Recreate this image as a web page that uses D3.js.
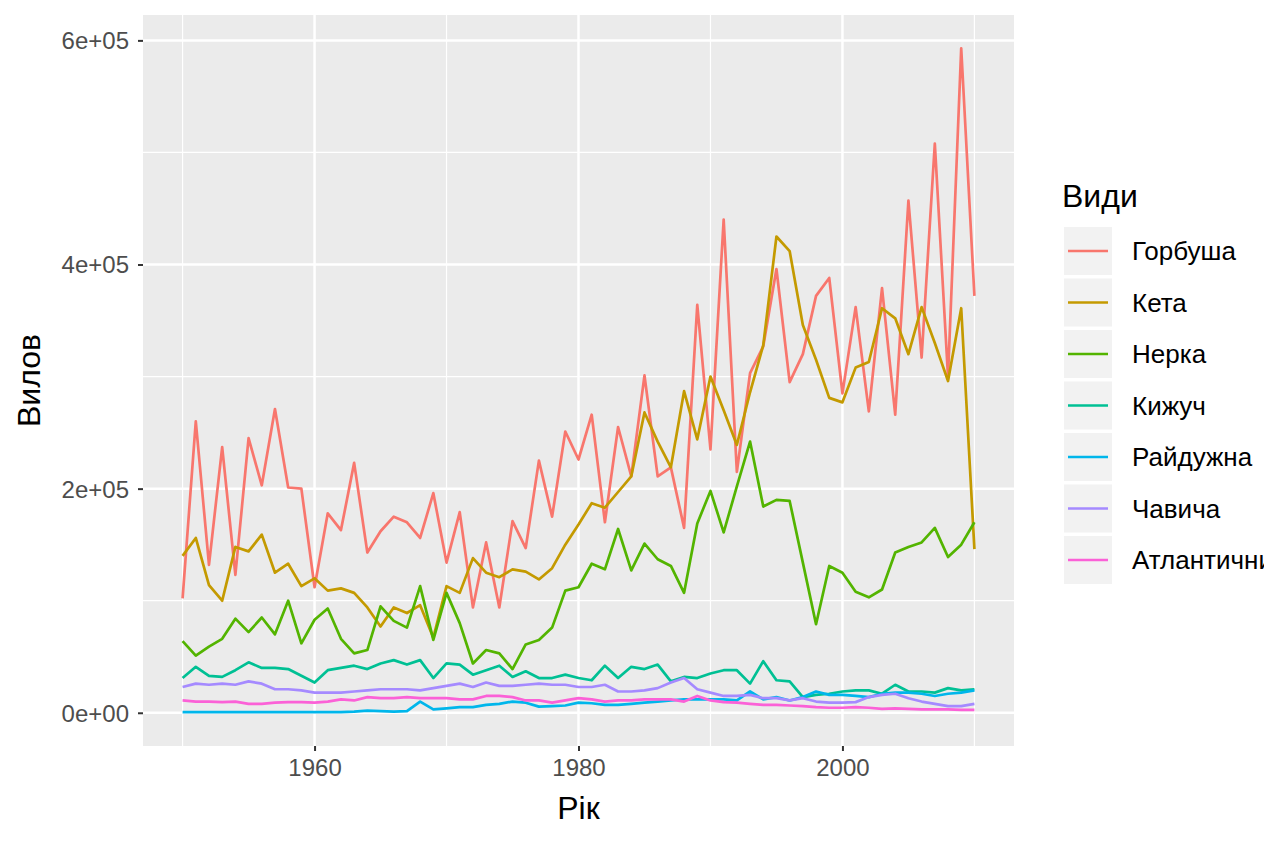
<!DOCTYPE html>
<html lang="uk">
<head>
<meta charset="UTF-8">
<title>Вилов лосося</title>
<script src="https://d3js.org/d3.v7.min.js"></script>
<style>
    body { margin: 0; background: #fff; font-family: "Liberation Sans", Arial, sans-serif; }
    .tick text { fill: #4d4d4d; font-size: 24px; }
    .tick line { stroke: #333; stroke-width: 2; }
    .domain { display: none; }
    .axis-title { font-size: 32px; fill: #000; }
    .legend-text { font-size: 26px; fill: #000; }
</style>
</head>
<body>
<div id="chart"></div>
<script>
// years 1950..2010, values in thousands
const years = d3.range(1950, 2011);
const speciesNames = ["Горбуша", "Кета", "Нерка", "Кижуч", "Райдужна", "Чавича", "Атлантичний"];
const colors = ["#F8766D", "#C49A00", "#53B400", "#00C094", "#00B6EB", "#A58AFF", "#FB61D7"];

const gorbusha = [102,260,132,237,123,245,203,271,201,200,
                  112,178,163,223,143,162,175,170,156,196,
                  134,179,94,152,94,171,147,225,175,251,
                  226,266,170,255,211,301,211,219,165,364,
                  235,440,215,303,327,396,295,320,372,388,
                  285,362,269,379,266,457,317,508,300,593,
                  372];
const keta = [140,156,114,100,148,144,159,125,133,113,
              120,109,111,107,94,77,94,89,96,67,
              113,107,138,125,121,128,126,119,129,150,
              168,187,183,197,211,268,242,219,287,244,
              300,270,239,286,328,425,412,346,315,281,
              277,308,313,361,352,320,362,330,296,361,
              146];
const nerka = [64,51,59,66,84,72,85,70,100,62,
               83,93,66,53,56,95,82,76,113,65,
               107,80,44,56,53,39,61,65,76,109,
               112,133,128,164,127,151,137,131,107,169,
               198,161,202,242,184,190,189,134,79,131,
               125,108,103,110,143,148,152,165,139,150,
               170];
const kyzhuch = [31,41,33,32,38,45,40,40,39,33,
                 27,38,40,42,39,44,47,43,47,31,
                 44,43,34,38,42,32,37,31,31,34,
                 31,29,42,31,41,39,43,28,32,31,
                 35,38,38,26,46,29,28,14,16,17,
                 19,20,20,17,25,19,19,18,22,20,
                 21];
const raiduzhna = [0.5,0.5,0.5,0.5,0.5,0.5,0.5,0.5,0.5,0.5,
                   0.5,0.5,0.5,1,2,1.5,1,1.5,10,3,
                   4,5,5,7,8,10,9,5.5,6,6.5,
                   9,8.5,7,7,8,9,10,11,12,12,
                   12,12,11,19,12,14,11,14,19,16,
                   16,15,14,17,18,18,17,15,17,18,
                   20];
const chavycha = [23,26,25,26,25,28,26,21,21,20,
                  18,18,18,19,20,21,21,21,20,22,
                  24,26,23,27,24,24,25,26,25,25,
                  23,23,25,19,19,20,22,27,31,21,
                  18,15,15,16,13,13,11,13,10,9,
                  9,9.5,14,16,17,13,10,8,6,6,
                  8];
const atlantic = [11,10,10,9.5,10,8,8,9,9.5,9.5,
                  9,10,12,11,14,13,13,14,13,13,
                  13,12,12,15,15,14,11,11,9,11,
                  13,12,10,11,11,12,12,12,10,15,
                  11,9.5,9,8,7,7,6.5,6,5,4.5,
                  4.5,5,4.5,3.5,4,3.5,3,3,3,2.5,
                  2.5];

const seriesValues = [gorbusha, keta, nerka, kyzhuch, raiduzhna, chavycha, atlantic];
const yTicks = [0, 200000, 400000, 600000];
const yTickLabels = ["0e+00", "2e+05", "4e+05", "6e+05"];
const xTicks = [1960, 1980, 2000];

const series = speciesNames.map((name, i) => ({
    name: name,
    color: colors[i],
    values: years.map((y, j) => ({ year: y, value: seriesValues[i][j] * 1000 }))
}));

const W = 1264, H = 843;
const panel = { left: 143, top: 15, right: 1014, bottom: 746 };

const svg = d3.select("#chart").append("svg")
    .attr("width", W)
    .attr("height", H);

// ggplot-like 5% expansion
const xMin = 1950, xMax = 2010, xPad = (xMax - xMin) * 0.05;
const yMaxData = d3.max(series, s => d3.max(s.values, d => d.value));
const yPad = yMaxData * 0.05;

const x = d3.scaleLinear()
    .domain([xMin - xPad, xMax + xPad])
    .range([panel.left, panel.right]);
const y = d3.scaleLinear()
    .domain([-yPad, yMaxData + yPad])
    .range([panel.bottom, panel.top]);

// panel background
svg.append("rect")
    .attr("x", panel.left).attr("y", panel.top)
    .attr("width", panel.right - panel.left)
    .attr("height", panel.bottom - panel.top)
    .attr("fill", "#EBEBEB");

// minor grid
const yMinor = [100000, 300000, 500000];
const xMinor = [1950, 1970, 1990, 2010];
svg.append("g").selectAll("line").data(yMinor).join("line")
    .attr("x1", panel.left).attr("x2", panel.right)
    .attr("y1", d => y(d)).attr("y2", d => y(d))
    .attr("stroke", "#fff").attr("stroke-width", 1.2);
svg.append("g").selectAll("line").data(xMinor).join("line")
    .attr("y1", panel.top).attr("y2", panel.bottom)
    .attr("x1", d => x(d)).attr("x2", d => x(d))
    .attr("stroke", "#fff").attr("stroke-width", 1.2);

// major grid
svg.append("g").selectAll("line").data(yTicks).join("line")
    .attr("x1", panel.left).attr("x2", panel.right)
    .attr("y1", d => y(d)).attr("y2", d => y(d))
    .attr("stroke", "#fff").attr("stroke-width", 2.5);
svg.append("g").selectAll("line").data(xTicks).join("line")
    .attr("y1", panel.top).attr("y2", panel.bottom)
    .attr("x1", d => x(d)).attr("x2", d => x(d))
    .attr("stroke", "#fff").attr("stroke-width", 2.5);

// lines
const line = d3.line()
    .x(d => x(d.year))
    .y(d => y(d.value));

svg.append("g").selectAll("path").data(series).join("path")
    .attr("d", d => line(d.values))
    .attr("fill", "none")
    .attr("stroke", d => d.color)
    .attr("stroke-width", 2.7)
    .attr("stroke-linejoin", "round");

// axes
const xAxisG = svg.append("g")
    .attr("transform", `translate(0,${panel.bottom})`)
    .call(d3.axisBottom(x).tickValues(xTicks).tickFormat(d3.format("d")).tickSize(5).tickPadding(5));
xAxisG.selectAll(".tick text").attr("dy", "0.85em");

const yAxisG = svg.append("g")
    .attr("transform", `translate(${panel.left},0)`)
    .call(d3.axisLeft(y).tickValues(yTicks).tickFormat((d, i) => yTickLabels[i]).tickSize(5).tickPadding(9));
yAxisG.selectAll(".tick text").attr("dy", "0.35em");

// axis titles
svg.append("text")
    .attr("class", "axis-title")
    .attr("x", (panel.left + panel.right) / 2)
    .attr("y", 819)
    .attr("text-anchor", "middle")
    .text("Рік");

svg.append("text")
    .attr("class", "axis-title")
    .attr("transform", `translate(40,${(panel.top + panel.bottom) / 2}) rotate(-90)`)
    .attr("text-anchor", "middle")
    .text("Вилов");

// legend
const legend = svg.append("g").attr("transform", "translate(1062,0)");
legend.append("text")
    .attr("class", "axis-title")
    .attr("x", 0)
    .attr("y", 207)
    .text("Види");

const rowH = 51.5, firstTop = 227;
const items = legend.selectAll("g.item").data(series).join("g")
    .attr("class", "item")
    .attr("transform", (d, i) => `translate(2,${firstTop + i * rowH})`);
items.append("rect")
    .attr("width", 48).attr("height", 48)
    .attr("fill", "#F2F2F2");
items.append("line")
    .attr("x1", 4).attr("x2", 44)
    .attr("y1", 24).attr("y2", 24)
    .attr("stroke", d => d.color)
    .attr("stroke-width", 2.7);
items.append("text")
    .attr("class", "legend-text")
    .attr("x", 68)
    .attr("y", 24)
    .attr("dy", "0.36em")
    .text(d => d.name);
</script>
</body>
</html>
